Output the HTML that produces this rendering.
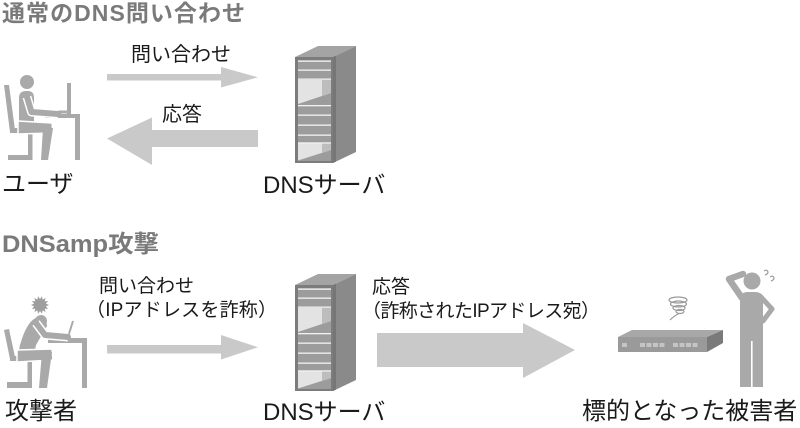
<!DOCTYPE html>
<html><head><meta charset="utf-8">
<style>html,body{margin:0;padding:0;background:#fff;}svg{display:block}</style>
</head><body>
<svg width="800" height="428" viewBox="0 0 800 428" xmlns="http://www.w3.org/2000/svg" font-family="'Liberation Sans','Noto Sans CJK JP',sans-serif">
<rect x="0" y="0" width="800" height="428" fill="#fff"/>

<!-- Titles -->
<text x="2" y="21" font-size="23" font-weight="bold" fill="#7a7a7a" textLength="243" lengthAdjust="spacing">通常のDNS問い合わせ</text>
<text x="2" y="252" font-size="24" font-weight="bold" fill="#7a7a7a" textLength="157" lengthAdjust="spacingAndGlyphs">DNSamp攻撃</text>

<!-- Arrows -->
<g fill="#c9c9c9">
  <rect x="107" y="74" width="115" height="6.5"/>
  <polygon points="221,67 258,77.3 221,87.5"/>
  <rect x="151" y="130" width="107" height="17"/>
  <polygon points="152,117.5 107,138.5 152,165"/>
  <rect x="107" y="345" width="115" height="8.5"/>
  <polygon points="221,335 258,347.3 221,359.5"/>
  <rect x="377" y="333" width="147" height="34"/>
  <polygon points="523,323 575,350 523,378"/>
</g>

<!-- Labels -->
<g fill="#1a1a1a">
  <text x="131" y="61" font-size="20">問い合わせ</text>
  <text x="162" y="121" font-size="20">応答</text>
  <text x="2" y="192" font-size="24">ユーザ</text>
  <text x="263" y="193" font-size="24">DNSサーバ</text>
  <text x="99" y="292" font-size="19">問い合わせ</text>
  <text x="86" y="316" font-size="19" textLength="191" lengthAdjust="spacing">（IPアドレスを詐称）</text>
  <text x="372" y="293" font-size="19">応答</text>
  <text x="362" y="317" font-size="19" textLength="238" lengthAdjust="spacing">（詐称されたIPアドレス宛）</text>
  <text x="5" y="419" font-size="24">攻撃者</text>
  <text x="263" y="420" font-size="24">DNSサーバ</text>
  <text x="582" y="419" font-size="24">標的となった被害者</text>
</g>

<!-- Server -->
<g id="srv">
  <polygon points="295,57 318,46 356,46 333,57" fill="#a4a4a4"/>
  <polygon points="333,57 356,46 356,152 333,163" fill="#8a8a8a"/>
  <polygon points="333,57 336,55.6 336,161.6 333,163" fill="#767676"/>
  <rect x="295" y="57" width="38" height="106" fill="#7c7c7c"/>
  <rect x="298" y="60" width="33" height="101" fill="#9c9c9c"/>
  <polygon points="298,80 331,80 331,93 298,104" fill="#e3e3e3"/>
  <polygon points="322,80 331,80 331,93 322,96" fill="#bdbdbd"/>
  <polygon points="298,143.5 331,143.5 331,150 298,160.5" fill="#e3e3e3"/>
  <polygon points="322,143.5 331,143.5 331,150 322,153" fill="#bdbdbd"/>
  <g fill="#f2f2f2">
    <rect x="298" y="60.5" width="33" height="1.3"/>
    <rect x="298" y="69.5" width="33" height="1.3"/>
    <rect x="298" y="78.5" width="33" height="1.3"/>
    <rect x="298" y="105" width="33" height="1.3"/>
    <rect x="298" y="114.5" width="33" height="1.3"/>
    <rect x="298" y="124.5" width="33" height="1.3"/>
    <rect x="298" y="134.5" width="33" height="1.3"/>
    <rect x="298" y="142.3" width="33" height="1.3"/>
  </g>
</g>
<use href="#srv" transform="translate(0,228)"/>

<!-- User (top) -->
<g fill="#a9a9a9">
  <polygon points="4,85 9,85 15,130 10,132"/>
  <rect x="10" y="128" width="22" height="5"/>
  <rect x="28" y="131" width="4.5" height="29"/>
  <rect x="8" y="155" width="24.5" height="5"/>
  <circle cx="27" cy="82" r="7"/>
  <path d="M19,128 L19,98 Q19,91 26,91 L28,91 Q34,91 34,98 L34,125 Z"/>
  <path d="M18,121 L52,123 L53,133 L18,134 Z" stroke="#fff" stroke-width="1.5"/>
  <polygon points="43,128 53,128 48,160 41,160"/>
  <rect x="45" y="114" width="35" height="4"/>
  <rect x="75" y="114" width="5" height="46"/>
  <rect x="67" y="83" width="4" height="31"/>
  <rect x="50" y="110.5" width="17" height="3"/>
  <path d="M27,97 L31.5,112 L58,114" fill="none" stroke="#fff" stroke-width="9" stroke-linejoin="round"/>
  <path d="M27,97 L31.5,112 L58,114" fill="none" stroke="#a9a9a9" stroke-width="6" stroke-linejoin="round" stroke-linecap="round"/>
</g>

<!-- Attacker (bottom) -->
<g fill="#a9a9a9">
  <polygon fill="#9e9e9e" points="49,305 45.85,306.34 48.11,308.9 44.69,308.74 45.61,312.03 42.6,310.41 42,313.77 40,311 38,313.77 37.4,310.41 34.39,312.03 35.31,308.74 31.89,308.9 34.15,306.34 31,305 34.15,303.66 31.89,301.1 35.31,301.26 34.39,297.97 37.4,299.59 38,296.23 40,299 42,296.23 42.6,299.59 45.61,297.97 44.69,301.26 48.11,301.1 45.85,303.66"/>
  <polygon points="4,330 9,329 15,357 10,359"/>
  <rect x="10" y="356" width="22" height="5"/>
  <rect x="27.5" y="358" width="4.5" height="30"/>
  <rect x="7" y="382" width="25" height="6"/>
  <path d="M17,360 L20,345 Q27,320 38,317 Q46,316 47,326 L36,345 L33,360 Z"/>
  <circle cx="41" cy="321" r="6"/>
  <path d="M17,350 L52,349 L53,360 L17,362 Z" stroke="#fff" stroke-width="1.5"/>
  <polygon points="42,352 52,352 47,388 39,388"/>
  <rect x="48" y="338" width="39" height="5"/>
  <rect x="82" y="338" width="5" height="50"/>
  <path d="M68,337 L73,321" stroke="#a9a9a9" stroke-width="2" fill="none"/>
  <path d="M36,323 L45,335 L68,337" fill="none" stroke="#fff" stroke-width="9" stroke-linejoin="round"/>
  <path d="M36,323 L45,335 L68,337" fill="none" stroke="#a9a9a9" stroke-width="6" stroke-linejoin="round" stroke-linecap="round"/>
</g>

<!-- Spiral -->
<g fill="none" stroke="#9a9a9a" stroke-width="1.2">
  <ellipse cx="678" cy="300" rx="9" ry="3"/>
  <ellipse cx="678.5" cy="304" rx="8" ry="3"/>
  <ellipse cx="679" cy="308" rx="6" ry="2.5"/>
  <ellipse cx="680" cy="311.5" rx="4" ry="2"/>
  <path d="M679,313.5 Q674,316 670,320"/>
</g>

<!-- Switch -->
<polygon points="632,330 723,330 707,337 618,337" fill="#a8a8a8"/>
<rect x="618" y="337" width="89" height="15" fill="#9a9a9a"/>
<polygon points="707,337 723,330 723,343 707,352" fill="#7a7a7a"/>
<g fill="#c4c4c4">
  <rect x="622" y="343" width="5" height="4"/>
  <rect x="640" y="343" width="5" height="4"/>
  <rect x="646.5" y="343" width="5" height="4"/>
  <rect x="653" y="343" width="5" height="4"/>
  <rect x="659.5" y="343" width="5" height="4"/>
  <rect x="673" y="343" width="5" height="4"/>
  <rect x="679.5" y="343" width="5" height="4"/>
  <rect x="686" y="343" width="5" height="4"/>
  <rect x="692.5" y="343" width="5" height="4"/>
</g>

<!-- Victim -->
<g fill="#a9a9a9">
  <circle cx="752" cy="281" r="8.5"/>
  <path d="M740,340 L740,300 Q740,292 748,292 L755,292 Q763,292 763,300 L763,340 Z"/>
  <rect x="740" y="336" width="23" height="51"/>
  <rect x="751" y="341" width="1.6" height="46" fill="#fff"/>
  <path d="M742,298 L729,279 L743,274" fill="none" stroke="#a9a9a9" stroke-width="6.5" stroke-linejoin="round" stroke-linecap="round"/>
  <path d="M760,296 L772,309 L763,321" fill="none" stroke="#a9a9a9" stroke-width="5" stroke-linejoin="round" stroke-linecap="round"/>
</g>
<g fill="none" stroke="#999" stroke-width="1.2">
  <path d="M764,271 q3,-2 4,1 q0,2 -3,3"/>
  <path d="M770,277 q3,-2 4,1 q0,2 -3,3"/>
</g>
</svg>
</body></html>
